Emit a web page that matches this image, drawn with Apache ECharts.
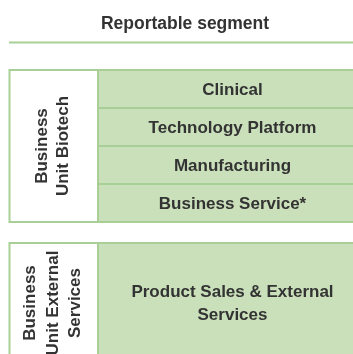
<!DOCTYPE html>
<html><head><meta charset="utf-8">
<script src="https://cdn.jsdelivr.net/npm/echarts@6/dist/echarts.min.js"></script>
<style>html,body{margin:0;padding:0;background:#fff;overflow:hidden}#c{width:353px;height:354px}</style>
</head><body><div id="c"></div>
<script>
var title = 'Reportable segment';
var groupLabels = ['Business\nUnit Biotech', 'Business\nUnit External\nServices'];
var biotechSegments = ['Clinical', 'Technology Platform', 'Manufacturing', 'Business Service*'];
var externalSegments = ['Product Sales & External\nServices'];

var FILL = '#c9e0ba', LINE = '#a8cf95', TXT = '#333333';
var FONT = 'Liberation Sans, Arial, sans-serif';
var X0 = 9, XD = 98, X1 = 380, XC = 232.5;
var els = [];
els.push({type:'text', style:{text:title, x:185, y:24, align:'center', verticalAlign:'middle', font:'bold 17.5px '+FONT, fill:TXT}});
els.push({type:'line', shape:{x1:X0, y1:42.5, x2:X1, y2:42.5}, style:{stroke:LINE, lineWidth:2}});

function block(top, rowH, segs, label, lh) {
  var h = rowH * segs.length;
  els.push({type:'rect', shape:{x:X0+0.5, y:top, width:XD-X0, height:h}, style:{fill:'#fff', stroke:LINE, lineWidth:2}});
  segs.forEach(function(s, i){
    els.push({type:'rect', shape:{x:XD, y:top+i*rowH, width:X1-XD, height:rowH}, style:{fill:FILL, stroke:LINE, lineWidth:2}});
    els.push({type:'text', style:{text:s, x:XC, y:top+i*rowH+rowH/2+1, align:'center', verticalAlign:'middle', font:'bold 17px '+FONT, fill:TXT, lineHeight:23}});
  });
  els.push({type:'text', x:(X0+XD)/2 - 0.5, y:top+h/2, rotation:Math.PI/2, style:{text:label, x:0, y:0, align:'center', verticalAlign:'middle', font:'bold 17px '+FONT, fill:TXT, lineHeight:lh}});
}
block(70, 38, biotechSegments, groupLabels[0], 21);
block(243, 120, externalSegments, groupLabels[1], 22.5);

var chart = echarts.init(document.getElementById('c'), null, {renderer:'canvas'});
chart.setOption({animation:false, graphic:{elements:els}});
</script></body></html>
